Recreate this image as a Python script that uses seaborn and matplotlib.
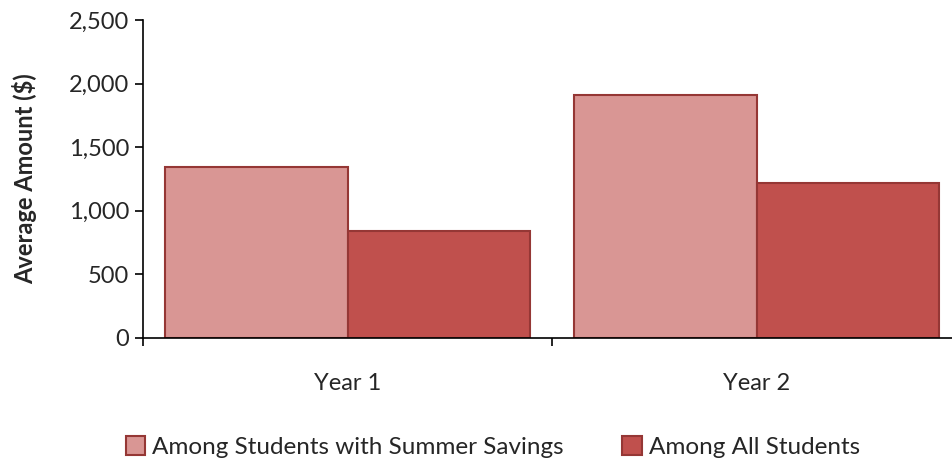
import pandas as pd
import seaborn as sns
import matplotlib.pyplot as plt
from matplotlib.patches import Patch

# Chart data
years = ["Year 1", "Year 2"]
series = ["Among Students with Summer Savings", "Among All Students"]
with_savings = [1345, 1910]
all_students = [845, 1215]

df = pd.DataFrame({
    "Year": years * 2,
    "Group": [series[0]] * 2 + [series[1]] * 2,
    "Amount": with_savings + all_students,
})

colors = ["#D99694", "#C0504D"]
edge = "#953735"

sns.set_style("white")
plt.rcParams["font.family"] = ["Lato", "DejaVu Sans"]

fig = plt.figure(figsize=(9.53, 4.63), dpi=100)
ax = fig.add_axes([143 / 953, 125 / 463, 818 / 953, 318 / 463])

sns.barplot(data=df, x="Year", y="Amount", hue="Group", hue_order=series,
            palette=colors, saturation=1, width=0.89, edgecolor=edge,
            linewidth=1.5, ax=ax, legend=False)

ax.set_xlim(-0.5, 1.5)
ax.set_ylim(0, 2500)
ax.set_yticks(range(0, 2501, 500))
ax.yaxis.set_major_formatter(plt.FuncFormatter(lambda v, p: f"{int(v):,}"))

# Spines and ticks
sns.despine(ax=ax)
for s in ["left", "bottom"]:
    ax.spines[s].set_color("black")
    ax.spines[s].set_linewidth(1.2)
ax.tick_params(axis="y", direction="out", length=6, width=1.2, color="black",
               labelsize=17, pad=4, left=True)
ax.set_xticks([-0.5, 0.5, 1.5], minor=True)
ax.tick_params(axis="x", which="minor", direction="out", length=6, width=1.2,
               color="black", bottom=True)
ax.tick_params(axis="x", which="major", length=0, labelsize=17, pad=25)

ax.set_xlabel("")
ax.set_ylabel("Average Amount ($)", fontsize=17, fontweight="bold")
ax.yaxis.set_label_coords(-0.13, 0.5)

# Legend below the chart
handles = [Patch(facecolor=c, edgecolor=edge, linewidth=1.5) for c in colors]
fig.legend(handles, series, loc="center", bbox_to_anchor=(493 / 953, 1 - 447 / 463),
           ncol=2, frameon=False, fontsize=17.5, handlelength=0.8, handleheight=0.8,
           handletextpad=0.3, columnspacing=2.4)

fig.savefig("out.png", dpi=100)
